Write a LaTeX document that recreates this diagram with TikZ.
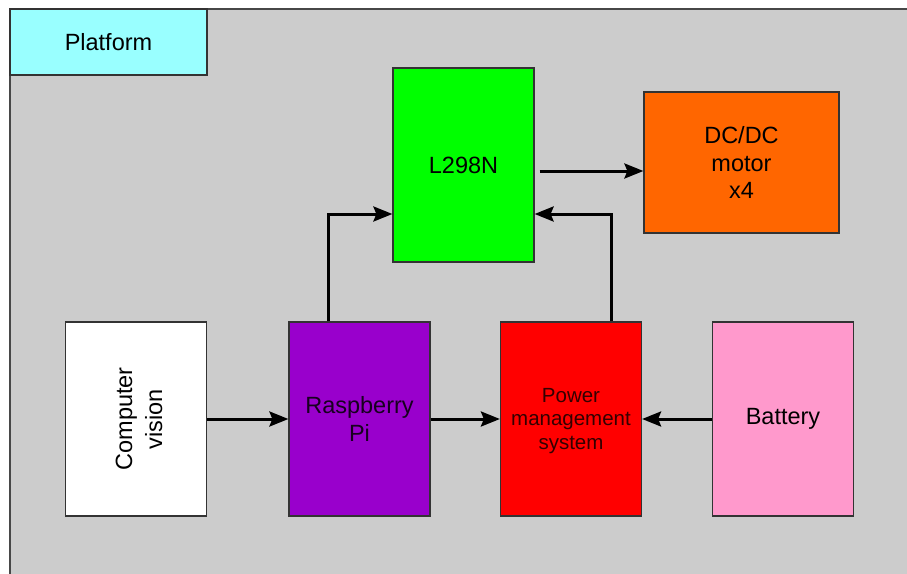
\documentclass[tikz,border=0pt]{standalone}
\usepackage{fontspec}
\setmainfont{Liberation Sans}
\usetikzlibrary{arrows.meta}
\definecolor{frameg}{HTML}{CCCCCC}
\definecolor{cyanbox}{HTML}{99FFFF}
\definecolor{greenbox}{HTML}{00FF00}
\definecolor{orangebox}{HTML}{FF6600}
\definecolor{purplebox}{HTML}{9900CC}
\definecolor{redbox}{HTML}{FF0000}
\definecolor{pinkbox}{HTML}{FF99CC}
\definecolor{edge}{HTML}{333333}
\tikzset{
  blk/.style={draw=edge, line width=1.2pt, rectangle, align=center, inner sep=0pt,
    font=\fontsize{23.5}{27.5}\selectfont},
  tallblk/.style={blk, minimum width=141pt, minimum height=194pt},
  arr/.style={draw=black, line width=3pt, -{Stealth[length=19pt,width=15pt,inset=3pt]}}
}
\begin{document}
\begin{tikzpicture}[x=1pt,y=-1pt]
\useasboundingbox (0,0) rectangle (907,573);
\clip (0,0) rectangle (907,573);
\draw[draw=edge!90, line width=1.5pt, fill=frameg] (10,9) rectangle (940,600);
\node[blk, fill=cyanbox, minimum width=197pt, minimum height=66pt] (platform) at (108.5,42) {Platform};
\node[blk, fill=greenbox, minimum width=141pt, minimum height=194pt] (l298) at (463.5,165) {L298N};
\node[blk, fill=orangebox, minimum width=195pt, minimum height=141pt] (motor) at (741.5,162.5) {DC/DC\\motor\\x4};
\node[tallblk, fill=white] (cv) at (136,419) {};
\node[rotate=90, align=center, inner sep=0pt, font=\fontsize{23.5}{30}\selectfont] (cvtext) at ([xshift=3pt]cv.center) {Computer\\vision};
\node[tallblk, fill=purplebox, text=black!85!purplebox] (rpi) at (359.5,419) {Raspberry\\Pi};
\node[tallblk, fill=redbox] (pms) at (571,419) {};
\node[align=center, inner sep=0pt, text=black!80!redbox, font=\fontsize{20.5}{23.5}\selectfont] (pmstext) at ([yshift=-2pt]pms.center) {Power\\management\\system};
\node[tallblk, fill=pinkbox] (bat) at (783,419) {Battery};
\draw[arr] (cv.east) -- (rpi.west);
\draw[arr] (rpi.east) -- (pms.west);
\draw[arr] (bat.west) -- (pms.east);
\coordinate (rpiup) at ([xshift=-31.5pt]rpi.north);
\coordinate (lin) at ([yshift=-49pt]l298.west);
\draw[arr] (rpiup) |- (lin);
\coordinate (pmsup) at ([xshift=40pt]pms.north);
\coordinate (rin) at ([yshift=-49pt]l298.east);
\draw[arr] (pmsup) |- (rin);
\coordinate (lout) at ([shift={(5pt,-6pt)}]l298.east);
\draw[arr] (lout) -- (lout -| motor.west);
\end{tikzpicture}
\end{document}
